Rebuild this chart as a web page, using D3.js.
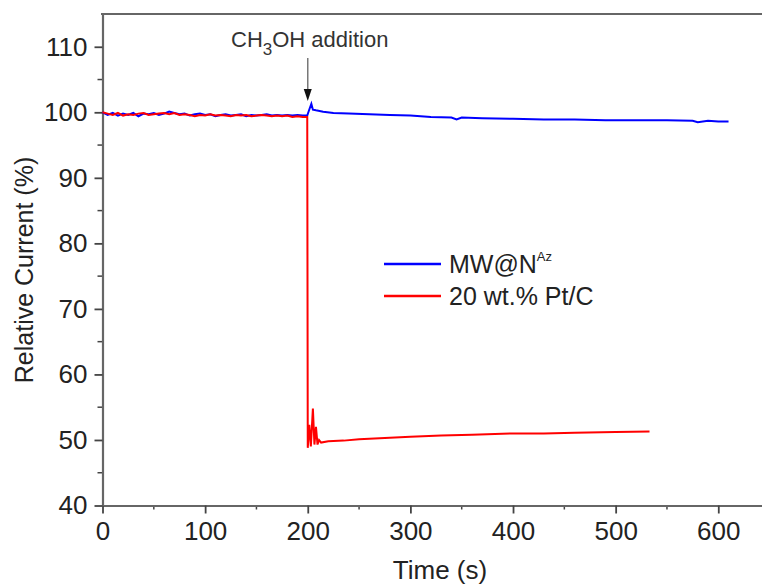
<!DOCTYPE html>
<html>
<head>
<meta charset="utf-8">
<script src="https://cdn.jsdelivr.net/npm/d3@7"></script>
<style>
  body { margin: 0; background: #fff; }
  text { font-family: "Liberation Sans", Arial, sans-serif; }
</style>
</head>
<body>
<svg id="chart" width="762" height="588"></svg>
<script>
// time (s) and relative current (%)
var mwTime = [0, 5, 10, 15, 20, 25, 30, 35, 40, 45, 50, 55, 60, 65, 70, 75, 80, 85, 90, 95,
  100, 105, 110, 115, 120, 125, 130, 135, 140, 145, 150, 155, 160, 165, 170, 175, 180, 185, 190, 195,
  199.5, 201, 203.5, 205, 208, 215, 225, 240, 260, 280, 300, 320, 340, 345, 350, 370, 400, 430,
  460, 490, 520, 550, 575, 580, 590, 600, 610];
var mwValue = [100.0, 99.6, 99.9, 99.5, 99.8, 99.6, 99.9, 99.4, 99.8, 99.7, 99.9, 99.6, 99.8, 100.1, 99.9, 99.7, 99.8, 99.5, 99.7, 99.8,
  99.6, 99.7, 99.4, 99.6, 99.7, 99.5, 99.6, 99.7, 99.4, 99.6, 99.5, 99.6, 99.7, 99.5, 99.6, 99.5, 99.6, 99.5, 99.6, 99.5,
  99.5, 100.2, 101.3, 100.4, 100.3, 100.1, 99.9, 99.8, 99.7, 99.6, 99.5, 99.3, 99.2, 98.9, 99.2, 99.1, 99.0, 98.9,
  98.9, 98.8, 98.8, 98.8, 98.7, 98.5, 98.7, 98.6, 98.6];

var ptTime = [0, 5, 10, 15, 20, 25, 30, 35, 40, 45, 50, 55, 60, 65, 70, 75, 80, 85, 90, 95,
  100, 105, 110, 115, 120, 125, 130, 135, 140, 145, 150, 155, 160, 165, 170, 175, 180, 185, 190, 195,
  199.5, 200, 201.5, 203, 205, 206.5, 208, 209.5, 211, 213, 220, 235, 250, 275, 300, 330, 360,
  400, 430, 460, 500, 533];
var ptValue = [100.0, 99.8, 99.6, 99.9, 99.5, 99.7, 99.6, 99.8, 99.9, 99.6, 99.7, 99.8, 99.9, 99.7, 99.9, 99.6, 99.7, 99.6, 99.4, 99.6,
  99.5, 99.7, 99.5, 99.6, 99.5, 99.4, 99.6, 99.5, 99.6, 99.4, 99.5, 99.6, 99.5, 99.4, 99.5, 99.4, 99.5, 99.3, 99.4, 99.3,
  99.3, 48.8, 52.3, 49.0, 54.8, 49.3, 52.0, 49.3, 50.0, 49.6, 49.8, 49.9, 50.1, 50.3, 50.5, 50.7, 50.8,
  51.0, 51.0, 51.1, 51.2, 51.3];

var seriesNames = ["MW@N", "20 wt.% Pt/C"];
var seriesColors = ["#0000ff", "#ff0000"];
var xTicks = [0, 100, 200, 300, 400, 500, 600];
var yTicks = [40, 50, 60, 70, 80, 90, 100, 110];

var svg = d3.select("#chart");

var x = d3.scaleLinear().domain([0, 642.6]).range([102.5, 762]);
var y = d3.scaleLinear().domain([40, 115]).range([505.5, 14]);

var axisColor = "#666";

// top border line
svg.append("line")
  .attr("x1", 101).attr("x2", 762)
  .attr("y1", 14).attr("y2", 14)
  .attr("stroke", axisColor).attr("stroke-width", 2.2);

// minor ticks
var xMinor = d3.range(50, 640, 100);
var yMinor = d3.range(45, 115, 10);

svg.append("g").selectAll("line").data(xMinor).enter().append("line")
  .attr("x1", d => x(d)).attr("x2", d => x(d))
  .attr("y1", y(40)).attr("y2", y(40) + 4)
  .attr("stroke", "#444").attr("stroke-width", 1.5);
svg.append("g").selectAll("line").data(yMinor).enter().append("line")
  .attr("x1", x(0) - 5).attr("x2", x(0))
  .attr("y1", d => y(d)).attr("y2", d => y(d))
  .attr("stroke", "#444").attr("stroke-width", 1.5);

// x axis
var xAxis = svg.append("g")
  .attr("transform", "translate(0," + y(40) + ")")
  .call(d3.axisBottom(x).tickValues(xTicks).tickSize(8).tickPadding(8).tickSizeOuter(0));
xAxis.select(".domain").attr("stroke", axisColor).attr("stroke-width", 2.2);
xAxis.selectAll(".tick line").attr("stroke", "#444").attr("stroke-width", 1.8);
xAxis.selectAll(".tick text").attr("font-size", 26).attr("fill", "#222")
  .attr("font-family", "Liberation Sans, Arial, sans-serif");

// y axis
var yAxis = svg.append("g")
  .attr("transform", "translate(" + x(0) + ",0)")
  .call(d3.axisLeft(y).tickValues(yTicks).tickSize(8).tickPadding(7).tickSizeOuter(0));
yAxis.select(".domain").attr("stroke", axisColor).attr("stroke-width", 2.2);
yAxis.selectAll(".tick line").attr("stroke", "#444").attr("stroke-width", 1.8);
yAxis.selectAll(".tick text").attr("font-size", 26).attr("fill", "#222")
  .attr("font-family", "Liberation Sans, Arial, sans-serif");

// axis titles
svg.append("text")
  .attr("x", 440).attr("y", 579)
  .attr("text-anchor", "middle")
  .attr("font-size", 26).attr("fill", "#222")
  .text("Time (s)");

svg.append("text")
  .attr("transform", "translate(33,270) rotate(-90)")
  .attr("text-anchor", "middle")
  .attr("font-size", 25).attr("fill", "#222")
  .text("Relative Current (%)");

// lines
var line = d3.line()
  .x(d => x(d[0]))
  .y(d => y(d[1]));

var mwData = d3.zip(mwTime, mwValue);
var ptData = d3.zip(ptTime, ptValue);

svg.append("path")
  .datum(mwData)
  .attr("d", line)
  .attr("fill", "none")
  .attr("stroke", seriesColors[0])
  .attr("stroke-width", 2);

svg.append("path")
  .datum(ptData)
  .attr("d", line)
  .attr("fill", "none")
  .attr("stroke", seriesColors[1])
  .attr("stroke-width", 2);

// CH3OH addition annotation
var note = svg.append("text")
  .attr("x", 231).attr("y", 47)
  .attr("font-size", 22).attr("fill", "#333");
note.append("tspan").text("CH");
note.append("tspan").attr("dy", 8).attr("font-size", 17).text("3");
note.append("tspan").attr("dy", -8).text("OH addition");

svg.append("line")
  .attr("x1", x(200)).attr("x2", x(200))
  .attr("y1", 58).attr("y2", 92)
  .attr("stroke", "#777").attr("stroke-width", 1.5);
svg.append("path")
  .attr("d", "M" + (x(200) - 4) + ",89 L" + (x(200) + 4) + ",89 L" + x(200) + ",101 Z")
  .attr("fill", "#111");

// legend
var legend = svg.append("g");
var legY = [264, 296];
seriesNames.forEach(function(name, i) {
  legend.append("line")
    .attr("x1", 384).attr("x2", 441)
    .attr("y1", legY[i]).attr("y2", legY[i])
    .attr("stroke", seriesColors[i]).attr("stroke-width", 2.5);
  var t = legend.append("text")
    .attr("x", 449).attr("y", legY[i] + 9)
    .attr("font-size", 25).attr("fill", "#222");
  t.append("tspan").text(name);
  if (i === 0) {
    t.append("tspan").attr("dy", -12).attr("font-size", 13).text("Az");
  }
});
</script>
</body>
</html>
